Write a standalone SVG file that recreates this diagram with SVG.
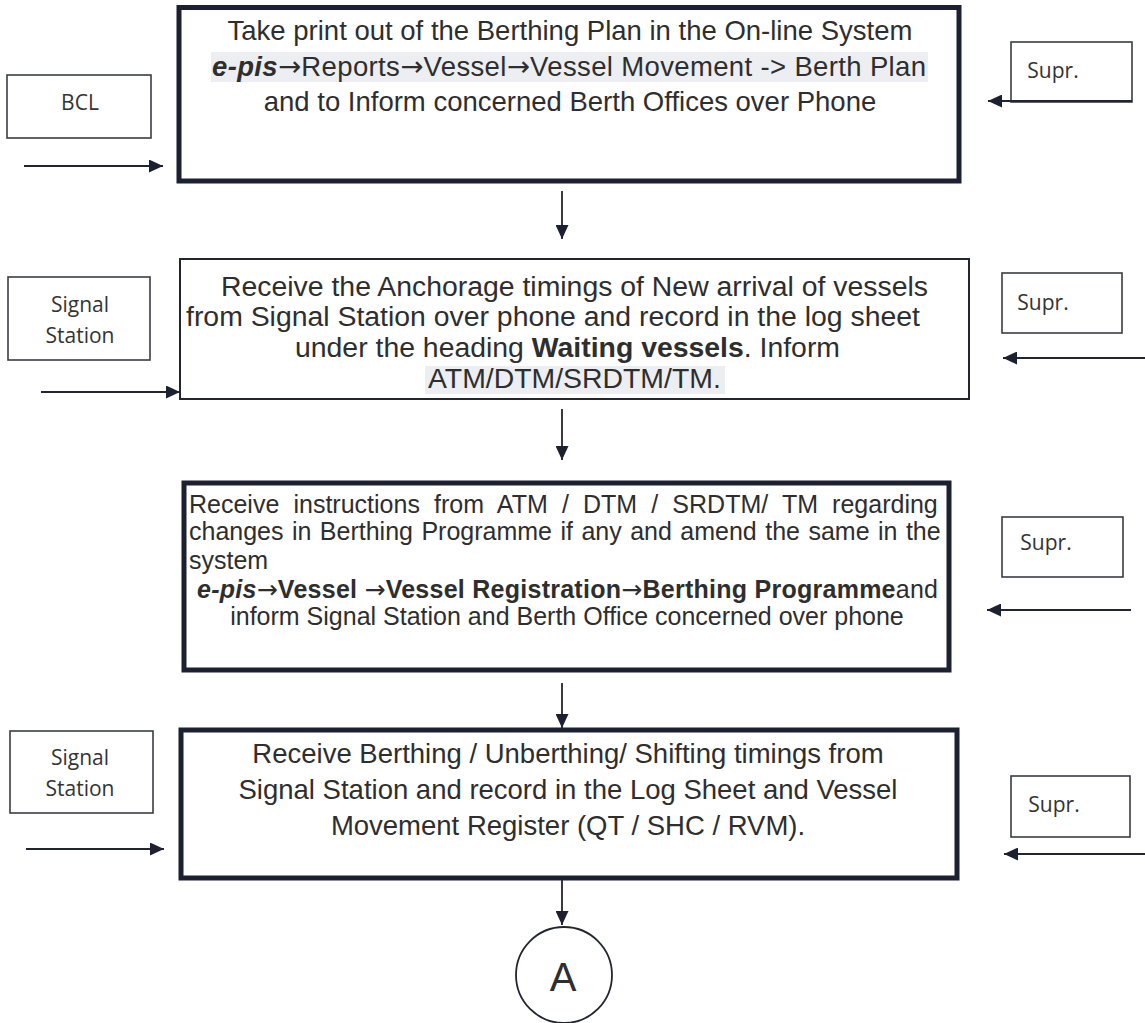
<svg xmlns="http://www.w3.org/2000/svg" width="1145" height="1023" viewBox="0 0 1145 1023">
<style>
.bg{fill:#ffffff}
.thick{fill:#ffffff;stroke:#1c2030;stroke-width:5}
.thin{fill:#ffffff;stroke:#23262e;stroke-width:2}
.lbl{fill:#ffffff;stroke:#3a3d44;stroke-width:1.6}
.main{font-family:"Liberation Sans",Arial,sans-serif;fill:#2e2e2e}
.arr{font-family:"DejaVu Sans",sans-serif;font-weight:normal;font-style:normal}
.small{font-family:"Open Sans","Noto Sans",sans-serif;font-size:21px;fill:#333333}
.hl{fill:#eceef1}
.conn{stroke:#22252d;stroke-width:1.8;fill:none}
</style>
<defs>
<marker id="ah" markerUnits="userSpaceOnUse" markerWidth="15" markerHeight="13" refX="14" refY="6.5" orient="auto">
<path d="M0,0 L14,6.5 L0,13 Z" fill="#1c2030"/>
</marker>
</defs>
<rect class="bg" x="0" y="0" width="1145" height="1023"/>

<g id="step1">
<rect class="thick" x="179" y="7.5" width="780" height="173.5"/>
<rect class="hl" x="211" y="52" width="717" height="30"/>
<text class="main" font-size="27.5" text-anchor="middle" x="570" y="40">Take print out of the Berthing Plan in the On-line System</text>
<text class="main" font-size="27.5" x="212" y="76" textLength="714" lengthAdjust="spacing"><tspan font-weight="bold" font-style="italic">e-pis</tspan><tspan class="arr">→</tspan>Reports<tspan class="arr">→</tspan>Vessel<tspan class="arr">→</tspan>Vessel Movement -&gt; Berth Plan</text>
<text class="main" font-size="27.5" text-anchor="middle" x="570" y="111">and to Inform concerned Berth Offices over Phone</text>
</g>

<g id="bcl">
<rect class="lbl" x="7" y="75" width="144" height="63"/>
<text class="small" text-anchor="middle" x="80" y="110">BCL</text>
</g>

<g id="supr1">
<rect class="lbl" x="1011" y="42" width="121" height="60"/>
<text class="small" text-anchor="middle" x="1053" y="78">Supr.</text>
</g>

<g id="step2">
<rect class="thin" x="180" y="259" width="789" height="140"/>
<rect class="hl" x="425" y="366" width="300" height="28"/>
<text class="main" font-size="28.4" x="221" y="296">Receive the Anchorage timings of New arrival of vessels</text>
<text class="main" font-size="28.4" x="186" y="326">from Signal Station over phone and record in the log sheet</text>
<text class="main" font-size="28.4" x="295" y="357">under the heading <tspan font-weight="bold">Waiting vessels</tspan>. Inform</text>
<text class="main" font-size="28.4" x="428" y="388">ATM/DTM/SRDTM/TM.</text>
</g>

<g id="signal1">
<rect class="lbl" x="8" y="277" width="142" height="83"/>
<text class="small" text-anchor="middle" x="80" y="312">Signal</text>
<text class="small" text-anchor="middle" x="80" y="343">Station</text>
</g>

<g id="supr2">
<rect class="lbl" x="1002" y="273" width="120" height="60"/>
<text class="small" text-anchor="middle" x="1043" y="310">Supr.</text>
</g>

<g id="step3">
<rect class="thick" x="184" y="483" width="765" height="187"/>
<text class="main" font-size="25" x="189" y="513" word-spacing="7.2">Receive instructions from ATM / DTM / SRDTM/ TM regarding</text>
<text class="main" font-size="25" x="189" y="540" word-spacing="1.5">changes in Berthing Programme if any and amend the same in the</text>
<text class="main" font-size="25" x="189" y="569">system</text>
<text class="main" font-size="25" x="197" y="598" font-weight="bold" textLength="741" lengthAdjust="spacing"><tspan font-style="italic">e-pis</tspan><tspan class="arr">→</tspan>Vessel <tspan class="arr">→</tspan>Vessel Registration<tspan class="arr">→</tspan>Berthing Programme<tspan font-weight="normal">and</tspan></text>
<text class="main" font-size="25" text-anchor="middle" x="567" y="625">inform Signal Station and Berth Office concerned over phone</text>
</g>

<g id="supr3">
<rect class="lbl" x="1002" y="517" width="121" height="60"/>
<text class="small" text-anchor="middle" x="1046" y="550">Supr.</text>
</g>

<g id="step4">
<rect class="thick" x="181" y="730" width="776" height="148"/>
<text class="main" font-size="27.5" text-anchor="middle" x="568" y="763">Receive Berthing / Unberthing/ Shifting timings from</text>
<text class="main" font-size="27.5" text-anchor="middle" x="568" y="799">Signal Station and record in the Log Sheet and Vessel</text>
<text class="main" font-size="27.5" text-anchor="middle" x="568" y="835">Movement Register (QT / SHC / RVM).</text>
</g>

<g id="signal2">
<rect class="lbl" x="10" y="731" width="143" height="82"/>
<text class="small" text-anchor="middle" x="80" y="765">Signal</text>
<text class="small" text-anchor="middle" x="80" y="796">Station</text>
</g>

<g id="supr4">
<rect class="lbl" x="1011" y="776" width="119" height="61"/>
<text class="small" text-anchor="middle" x="1054" y="812">Supr.</text>
</g>

<g id="connectorA">
<circle cx="564" cy="975" r="48" fill="#ffffff" stroke="#23262e" stroke-width="1.8"/>
<text class="main" font-size="40" text-anchor="middle" x="563" y="991">A</text>
</g>

<g id="connectors">
<line class="conn" x1="24" y1="166" x2="163" y2="166" marker-end="url(#ah)"/>
<line class="conn" x1="1132" y1="101" x2="988" y2="101" marker-end="url(#ah)"/>
<line class="conn" x1="562" y1="191" x2="562" y2="239" marker-end="url(#ah)"/>
<line class="conn" x1="41" y1="392" x2="180" y2="392" marker-end="url(#ah)"/>
<line class="conn" x1="1145" y1="358" x2="1003" y2="358" marker-end="url(#ah)"/>
<line class="conn" x1="562" y1="409" x2="562" y2="460" marker-end="url(#ah)"/>
<line class="conn" x1="1131" y1="610" x2="987" y2="610" marker-end="url(#ah)"/>
<line class="conn" x1="562" y1="683" x2="562" y2="728" marker-end="url(#ah)"/>
<line class="conn" x1="26" y1="849" x2="164" y2="849" marker-end="url(#ah)"/>
<line class="conn" x1="1145" y1="854" x2="1004" y2="854" marker-end="url(#ah)"/>
<line class="conn" x1="562" y1="880" x2="562" y2="925" marker-end="url(#ah)"/>
</g>
</svg>
